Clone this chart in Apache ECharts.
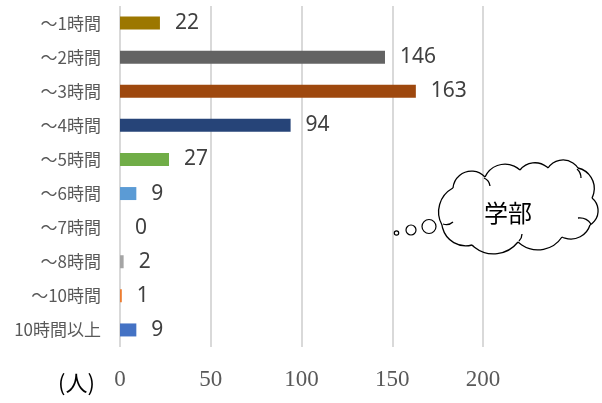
<!DOCTYPE html>
<html>
<head>
<meta charset="utf-8">
<script src="https://cdn.jsdelivr.net/npm/echarts@6/dist/echarts.min.js"></script>
<style>html,body{margin:0;padding:0;background:#fff}#c{width:602px;height:403px}</style>
</head>
<body>
<div id="c"></div>
<script>
const categories = ['～1時間','～2時間','～3時間','～4時間','～5時間','～6時間','～7時間','～8時間','～10時間','10時間以上'];
const values = [22,146,163,94,27,9,0,2,1,9];
const barColors = ['#9C7700','#636363','#9E480E','#264478','#70AD47','#5B9BD5','#FFC000','#A5A5A5','#ED7D31','#4472C4'];
const xTicks = [0,50,100,150,200];
const unitLabel = '(人)';
const bubbleLabel = '学部';

const chart = echarts.init(document.getElementById('c'), null, {renderer:'canvas'});

// decorative cloud outline: [x1,y1,x2,y2,r,sweep]
const cloudSegs = [
  [453,188,485,177,18.5,1],[485,177,520,170,22,1],[520,170,548,168,19,1],[548,168,578,168,18,1],
  [578,168,592,198,21,1],[592,198,590,225,16.5,1],[590,225,562,237,20,1],[562,237,518,242,29,1],
  [518,242,472,245,31,1],[472,245,442,225,24,1],[442,225,453,188,27,1],
  [484,178,490,186,10,1],[577,169,581,178,12,1],[591,224,578,218,14,0],[519,241,522,234,10,0],[443,224,453,222,10,0]
];
function arcEl(s){
  const [x1,y1,x2,y2,r0,sw]=s;
  const dx=x2-x1, dy=y2-y1, c=Math.hypot(dx,dy);
  const r=Math.max(r0,c/2);
  const h=Math.sqrt(Math.max(r*r-c*c/4,0));
  const sgn = sw?1:-1;
  const cx=(x1+x2)/2 + sgn*(-dy/c)*h, cy=(y1+y2)/2 + sgn*(dx/c)*h;
  const a1=Math.atan2(y1-cy,x1-cx), a2=Math.atan2(y2-cy,x2-cx);
  return {type:'arc', shape:{cx:cx, cy:cy, r:r, startAngle:a1, endAngle:a2, clockwise:!!sw},
          style:{fill:null, stroke:'#000', lineWidth:1.3}, z:10};
}

const graphics = [
  {type:'text', x:58, y:372, style:{text:unitLabel, font:'22px "Noto Sans CJK JP"', fill:'#000'}},
  {type:'circle', shape:{cx:396.5, cy:233, r:2.2}, style:{fill:'#fff', stroke:'#000', lineWidth:1.2}, z:10},
  {type:'circle', shape:{cx:411, cy:230, r:5}, style:{fill:'#fff', stroke:'#000', lineWidth:1.2}, z:10},
  {type:'circle', shape:{cx:429, cy:226.5, r:7}, style:{fill:'#fff', stroke:'#000', lineWidth:1.2}, z:10},
  {type:'text', x:508, y:213, style:{text:bubbleLabel, font:'24px "Noto Sans CJK JP"', fill:'#000', textAlign:'center', textVerticalAlign:'middle'}, z:10}
].concat(cloudSegs.map(arcEl));

chart.setOption({
  animation:false,
  grid:{left:120, right:119, top:6, bottom:56, containLabel:false},
  xAxis:{
    type:'value', min:xTicks[0], max:xTicks[xTicks.length-1], interval:50,
    axisLine:{show:false}, axisTick:{show:false},
    splitLine:{show:true, lineStyle:{color:'#D9D9D9', width:2}},
    axisLabel:{fontFamily:'Liberation Serif', fontSize:23, color:'#595959', margin:21}
  },
  yAxis:{
    type:'category', data:categories, inverse:true,
    axisLine:{show:false}, axisTick:{show:false},
    axisLabel:{fontFamily:'Noto Sans CJK JP', fontSize:17, color:'#595959', margin:19}
  },
  series:[{
    type:'bar',
    barWidth:13,
    data:values.map((v,i)=>({value:v, itemStyle:{color:barColors[i]}})),
    label:{show:true, position:'right', distance:15, fontFamily:'Noto Sans', fontSize:21, color:'#404040'}
  }],
  graphic:graphics
});
</script>
</body>
</html>
